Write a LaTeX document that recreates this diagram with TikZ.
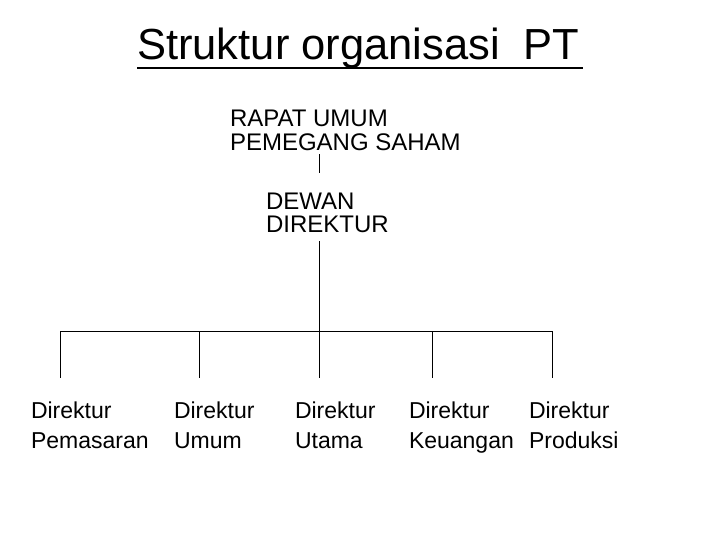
\documentclass[tikz,border=0pt]{standalone}
\usepackage{fontspec}
\setmainfont{Liberation Sans}
\begin{document}
\begin{tikzpicture}[x=1pt,y=-1pt,
  lbl/.style={anchor=base west,inner sep=0pt,outer sep=0pt,align=left,
    font=\fontsize{23}{30}\selectfont},
  conn/.style={draw=black,line width=1pt}]
\useasboundingbox (0,0) rectangle (720,540);
\node[anchor=base west,inner sep=0pt,font=\fontsize{43.5}{50}\selectfont] (title) at (137,60) {Struktur organisasi\ \ PT};
\draw[line width=2.5pt] ([yshift=-8pt]title.base west) -- ++(446,0);
\node[lbl,font=\fontsize{24}{24}\selectfont] (rapat) at (230,151) {RAPAT UMUM\\PEMEGANG SAHAM};
\node[lbl,font=\fontsize{24}{23.5}\selectfont] (dewan) at (266,233) {DEWAN\\DIREKTUR};
\node[lbl] (d1) at (31,448) {Direktur\\Pemasaran};
\node[lbl] (d2) at (174,448) {Direktur\\Umum};
\node[lbl] (d3) at (295,448) {Direktur\\Utama};
\node[lbl] (d4) at (409,448) {Direktur\\Keuangan};
\node[lbl] (d5) at (529,448) {Direktur\\Produksi};
\coordinate (bus) at (319,331);
\coordinate (t1) at (60,378);
\coordinate (t2) at (199,378);
\coordinate (t3) at (319,378);
\coordinate (t4) at (432,378);
\coordinate (t5) at (552,378);
\draw[conn] (bus |- rapat.south) ++(0,3) -- (bus |- 0,173);
\draw[conn] (bus |- dewan.south) ++(0,8) -- (bus);
\draw[conn] (t1 |- bus) -- (t5 |- bus);
\foreach \t in {t1,t2,t3,t4,t5} \draw[conn] (\t |- bus) -- (\t);
\end{tikzpicture}
\end{document}
